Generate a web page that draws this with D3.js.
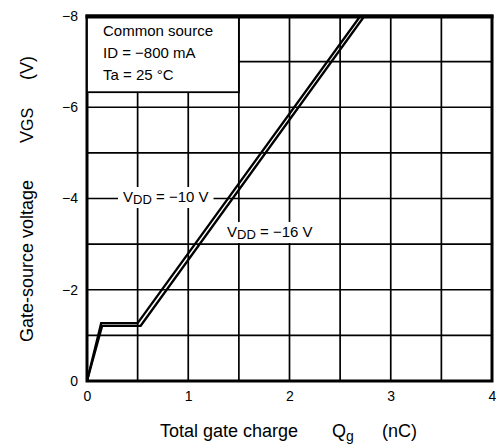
<!DOCTYPE html>
<html>
<head>
<meta charset="utf-8">
<script src="https://cdn.jsdelivr.net/npm/d3@7"></script>
<style>
  html, body { margin: 0; padding: 0; background: #fff; }
  svg { display: block; font-family: "Liberation Sans", Arial, Helvetica, sans-serif; }
</style>
</head>
<body>
<svg id="chart" width="496" height="446"></svg>
<script>
// ---- data ----
const xTicks = [0, 1, 2, 3, 4];
const yTicks = [0, -2, -4, -6, -8];
const xGrid = [0.5, 1, 1.5, 2, 2.5, 3, 3.5];
const yGrid = [-1, -2, -3, -4, -5, -6, -7];
const seriesNames = ["VDD = -10 V", "VDD = -16 V"];
const qgVdd10 = [0, 0.14, 0.50, 2.70];
const vgsVdd10 = [0, -1.27, -1.27, -8];
const qgVdd16 = [0, 0.15, 0.53, 2.74];
const vgsVdd16 = [0, -1.21, -1.21, -8];
const legendLines = ["Common source", "ID = \u2212800 mA", "Ta = 25 \u00B0C"];

// ---- layout ----
const svg = d3.select("#chart");
const x = d3.scaleLinear().domain([0, 4]).range([87, 492]);
const y = d3.scaleLinear().domain([0, -8]).range([381, 16]);
const fmt = v => (v < 0 ? "\u2212" + Math.abs(v) : String(v));

// grid
svg.append("g").selectAll("line").data(xGrid).join("line")
  .attr("x1", d => x(d)).attr("x2", d => x(d))
  .attr("y1", y(0)).attr("y2", y(-8))
  .attr("stroke", "#000").attr("stroke-width", 1.7);
svg.append("g").selectAll("line").data(yGrid).join("line")
  .attr("x1", x(0)).attr("x2", x(4))
  .attr("y1", d => y(d)).attr("y2", d => y(d))
  .attr("stroke", "#000").attr("stroke-width", 1.7);

// frame
svg.append("rect")
  .attr("x", x(0)).attr("y", y(-8))
  .attr("width", x(4) - x(0)).attr("height", y(0) - y(-8))
  .attr("fill", "none").attr("stroke", "#000").attr("stroke-width", 3);

// axes (labels only)
const xAxis = d3.axisBottom(x).tickValues(xTicks).tickFormat(fmt).tickSize(0).tickPadding(10);
const gx = svg.append("g").attr("transform", `translate(0,${y(0)})`).call(xAxis);
gx.select(".domain").remove();
gx.selectAll("text").attr("font-size", 14).attr("fill", "#000")
  .attr("font-family", "Liberation Sans, Arial, sans-serif");

const yAxis = d3.axisLeft(y).tickValues(yTicks).tickFormat(fmt).tickSize(0).tickPadding(9);
const gy = svg.append("g").attr("transform", `translate(${x(0)},0)`).call(yAxis);
gy.select(".domain").remove();
gy.selectAll("text").attr("font-size", 14).attr("fill", "#000")
  .attr("font-family", "Liberation Sans, Arial, sans-serif");

// legend box
svg.append("rect")
  .attr("x", x(0)).attr("y", y(-8))
  .attr("width", x(1.5) - x(0)).attr("height", y(-6.33) - y(-8))
  .attr("fill", "#fff").attr("stroke", "#000").attr("stroke-width", 1.8);
svg.append("rect")
  .attr("x", x(0)).attr("y", y(-8))
  .attr("width", x(4) - x(0)).attr("height", 1)
  .attr("fill", "none").attr("stroke", "#000").attr("stroke-width", 3);
svg.append("g").selectAll("text").data(legendLines).join("text")
  .attr("x", 103).attr("y", (d, i) => 36 + i * 22)
  .attr("font-size", 15).attr("fill", "#000").text(d => d);

// annotation labels with white backgrounds
function vddLabel(cx, cy, val) {
  const g = svg.append("g");
  const bg = g.append("rect").attr("fill", "#fff");
  const t = g.append("text").attr("x", cx).attr("y", cy).attr("font-size", 15).attr("fill", "#000");
  t.append("tspan").text("V");
  t.append("tspan").attr("font-size", 13).attr("dy", 2).text("DD");
  t.append("tspan").attr("dy", -2).text(" = \u2212" + val + " V");
  const b = t.node().getBBox();
  bg.attr("x", b.x - 5).attr("y", b.y - 1).attr("width", b.width + 10).attr("height", b.height + 2);
}
vddLabel(123, 202, 10);
vddLabel(227, 237, 16);

// curves
const line = d3.line().x(d => x(d[0])).y(d => y(d[1]));
const curves = [
  qgVdd10.map((q, i) => [q, vgsVdd10[i]]),
  qgVdd16.map((q, i) => [q, vgsVdd16[i]])
];
svg.append("g").selectAll("path").data(curves).join("path")
  .attr("d", line).attr("fill", "none")
  .attr("stroke", "#000").attr("stroke-width", 2.3)
  .attr("stroke-linejoin", "miter");

// axis titles
const xt = svg.append("text").attr("y", 437).attr("font-size", 18).attr("fill", "#000");
xt.append("tspan").attr("x", 160).text("Total gate charge");
xt.append("tspan").attr("x", 332).text("Q");
xt.append("tspan").attr("font-size", 14).attr("dy", 4).text("g");
xt.append("tspan").attr("x", 382).attr("dy", -4).text("(nC)");

const yt = svg.append("text").attr("transform", "translate(33,0) rotate(-90)")
  .attr("font-size", 18).attr("fill", "#000");
yt.append("tspan").attr("x", -342).text("Gate-source voltage");
yt.append("tspan").attr("x", -143).text("V");
yt.append("tspan").attr("font-size", 16).text("GS");
yt.append("tspan").attr("x", -80).text("(V)");
</script>
</body>
</html>
